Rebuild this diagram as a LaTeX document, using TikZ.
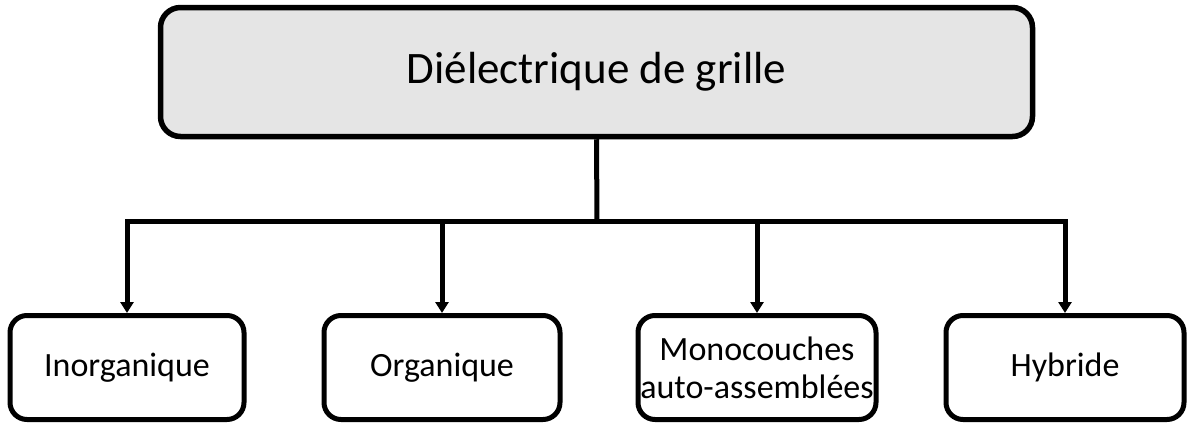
\documentclass[tikz,border=0pt]{standalone}
\usepackage{fontspec}
\setmainfont{Carlito}
\usepackage{tikz}
\usetikzlibrary{arrows.meta}
\definecolor{topfill}{HTML}{E5E5E5}
\tikzset{topic/.style={draw,line width=5.5pt,rounded corners=20pt,fill=topfill,minimum width=872pt,minimum height=129pt,inner sep=0pt,font=\fontsize{45}{54}\selectfont},category/.style={draw,line width=5pt,rounded corners=17pt,fill=white,minimum height=104pt,inner sep=0pt,align=center,font=\fontsize{34}{38}\selectfont},branch edge/.style={line width=5pt},branch arrow/.style={branch edge,-{Triangle[length=11pt,width=13pt]}}}

\begin{document}
\begin{tikzpicture}[x=1pt,y=-1pt]
 \useasboundingbox (0,0) rectangle (1187,423);
 \node[topic] (gate) at (596.5,72) {Diélectrique de grille};
 \coordinate (split) at (597,221);
 \foreach \n/\xx/\w/\txt in {inorg/127/234/Inorganique,org/442/236/Organique,mono/757/238/{Monocouches\\auto-assemblées},hyb/1065/238/Hybride} {
   \node[category,minimum width=\w pt] (\n) at (\xx,367.5) {\txt};
   \draw[branch arrow] (split) -| (\n.north);
 }
 \draw[branch edge] (gate.south) -- (split);
\end{tikzpicture}
\end{document}
